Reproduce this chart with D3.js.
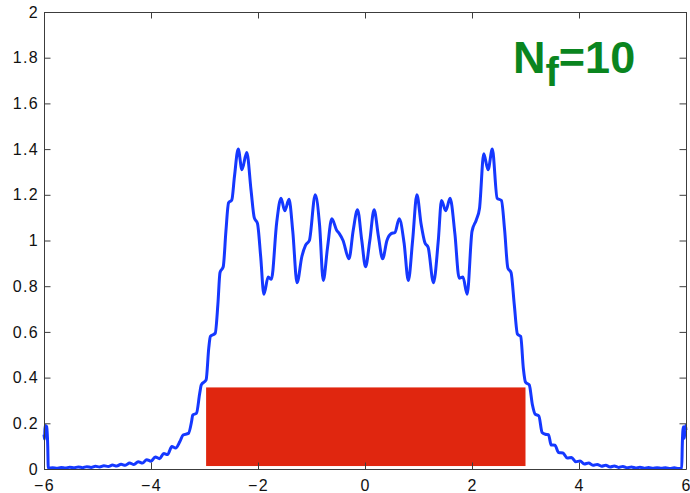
<!DOCTYPE html>
<html>
<head>
<meta charset="utf-8">
<script src="https://cdn.jsdelivr.net/npm/d3@7"></script>
<style>
  body { margin: 0; background: #fff; }
  text { font-family: "Liberation Sans", Arial, Helvetica, sans-serif; }
</style>
</head>
<body>
<div id="chart"></div>
<script>
var margin = {top: 12, right: 4, bottom: 24, left: 44};
var width = 690 - margin.left - margin.right,
    height = 493 - margin.top - margin.bottom;

// curve (x, y)
const curveX = [
  -6.00, -5.99, -5.98, -5.95, -5.93, -5.92,
  -5.84, -5.76, -5.68, -5.60, -5.52, -5.44, -5.36, -5.28, -5.20, -5.12,
  -5.04, -4.96, -4.88, -4.80, -4.72, -4.64, -4.56, -4.48, -4.40, -4.32,
  -4.24, -4.16, -4.08, -4.00, -3.92, -3.84, -3.76, -3.69, -3.61, -3.54,
  -3.46, -3.40, -3.30, -3.24, -3.22, -3.15, -3.09, -3.06, -2.97, -2.92,
  -2.89, -2.80, -2.75, -2.71, -2.65, -2.60, -2.55, -2.49, -2.44, -2.37,
  -2.30, -2.21, -2.13, -2.07, -2.01, -1.95, -1.89, -1.81, -1.75, -1.65,
  -1.57, -1.50, -1.42, -1.35, -1.27, -1.18, -1.11, -1.04, -0.93, -0.85,
  -0.78, -0.70, -0.62, -0.53, -0.48, -0.41, -0.30, -0.22, -0.14, -0.06,
  0.01, 0.09, 0.17, 0.25, 0.33, 0.41, 0.49, 0.56, 0.64, 0.73,
  0.81, 0.89, 0.97, 1.05, 1.12, 1.18, 1.28, 1.37, 1.43, 1.51,
  1.59, 1.68, 1.76, 1.83, 1.91, 2.00, 2.08, 2.14, 2.22, 2.30,
  2.38, 2.47, 2.55, 2.61, 2.67, 2.73, 2.79, 2.85, 2.91, 2.96,
  3.00, 3.07, 3.13, 3.18, 3.25, 3.31, 3.37, 3.43, 3.48, 3.55,
  3.62, 3.70, 3.78, 3.86, 3.94, 4.02, 4.10, 4.18, 4.26, 4.34,
  4.42, 4.50, 4.58, 4.66, 4.74, 4.82, 4.90, 4.98, 5.06, 5.14,
  5.22, 5.30, 5.38, 5.46, 5.54, 5.62, 5.70, 5.78, 5.86, 5.92,
  5.93, 5.95, 5.97, 5.99, 6.00
];
const curveY = [
  0.15, 0.13, 0.19, 0.185, 0.10, 0.004,
  0.006, 0.003, 0.007, 0.004, 0.008, 0.005, 0.009, 0.006, 0.010, 0.007,
  0.012, 0.009, 0.014, 0.011, 0.017, 0.013, 0.021, 0.016, 0.026, 0.020,
  0.032, 0.026, 0.041, 0.034, 0.053, 0.045, 0.068, 0.063, 0.098, 0.092,
  0.12, 0.149, 0.156, 0.21, 0.236, 0.244, 0.33, 0.368, 0.39, 0.53,
  0.58, 0.594, 0.72, 0.86, 0.885, 1.04, 1.165, 1.177, 1.28, 1.40,
  1.31, 1.385, 1.22, 1.10, 1.075, 0.93, 0.765, 0.84, 0.83, 1.08,
  1.185, 1.13, 1.18, 1.04, 0.815, 0.93, 0.98, 1.00, 1.20, 1.07,
  0.825, 0.97, 1.095, 1.045, 1.03, 1.00, 0.92, 1.045, 1.135, 1.00,
  0.885, 1.00, 1.135, 1.02, 0.92, 1.00, 1.03, 1.035, 1.095, 0.99,
  0.825, 1.00, 1.20, 1.07, 0.99, 0.97, 0.815, 1.00, 1.175, 1.13,
  1.185, 1.03, 0.835, 0.84, 0.765, 1.04, 1.09, 1.14, 1.38, 1.31,
  1.40, 1.185, 1.175, 1.045, 0.88, 0.86, 0.72, 0.59, 0.58, 0.44,
  0.38, 0.368, 0.28, 0.24, 0.232, 0.16, 0.152, 0.150, 0.105, 0.104,
  0.072, 0.070, 0.048, 0.050, 0.032, 0.035, 0.022, 0.026, 0.016, 0.020,
  0.012, 0.016, 0.009, 0.013, 0.007, 0.011, 0.005, 0.009, 0.004, 0.008,
  0.003, 0.007, 0.003, 0.006, 0.003, 0.006, 0.002, 0.005, 0.002, 0.003,
  0.10, 0.185, 0.135, 0.19, 0.17
];

// red block
const barX = [-2.97, 3.0];
const barY = [0.013, 0.357];

const xTicks = [-6, -4, -2, 0, 2, 4, 6];
const yTicks = [0, 0.2, 0.4, 0.6, 0.8, 1, 1.2, 1.4, 1.6, 1.8, 2];

const svg = d3.select('#chart')
  .append('svg')
  .attr("width", width + margin.left + margin.right)
  .attr("height", height + margin.top + margin.bottom)
  .append("g")
  .attr("transform", "translate(" + margin.left + "," + margin.top + ")");

const x = d3.scaleLinear().domain([-6, 6]).range([0, width]);
const y = d3.scaleLinear().domain([0, 2]).range([height, 0]);

// bar
svg.append("rect")
  .attr("x", x(barX[0]))
  .attr("y", y(barY[1]))
  .attr("width", x(barX[1]) - x(barX[0]))
  .attr("height", y(barY[0]) - y(barY[1]))
  .attr("fill", "#e0260f");

// curve
const pts = curveX.map((d, i) => [d, curveY[i]]);
const line = d3.line()
  .x(d => x(d[0]))
  .y(d => y(d[1]))
  .curve(d3.curveMonotoneX);

svg.append("path")
  .datum(pts)
  .attr("fill", "none")
  .attr("stroke", "#1538ff")
  .attr("stroke-width", 3)
  .attr("stroke-linejoin", "round")
  .attr("d", line);

// axes, matlab style: ticks inward on all four sides
const axisColor = "#3c3c3c";
const tickLen = 6.5;

const axBottom = svg.append("g")
  .attr("transform", `translate(0,${height})`)
  .call(d3.axisBottom(x).tickValues(xTicks).tickSizeInner(-tickLen).tickSizeOuter(0).tickPadding(11));
const axLeft = svg.append("g")
  .call(d3.axisLeft(y).tickValues(yTicks).tickSizeInner(-tickLen).tickSizeOuter(0).tickPadding(5)
    .tickFormat(d3.format("~g")));
const axTop = svg.append("g")
  .call(d3.axisTop(x).tickValues(xTicks).tickSizeInner(-tickLen).tickSizeOuter(0).tickFormat(""));
const axRight = svg.append("g")
  .attr("transform", `translate(${width},0)`)
  .call(d3.axisRight(y).tickValues(yTicks).tickSizeInner(-tickLen).tickSizeOuter(0).tickFormat(""));

[axBottom, axLeft, axTop, axRight].forEach(g => {
  g.selectAll("path, line").attr("stroke", axisColor);
  g.selectAll("text")
    .attr("fill", "#111")
    .attr("font-size", "16px")
    .attr("letter-spacing", "1.3px")
    .attr("font-family", "'Liberation Sans', Arial, Helvetica, sans-serif");
});

// label
const label = svg.append("text")
  .attr("x", 469)
  .attr("y", 61)
  .attr("fill", "#0a851f")
  .attr("font-weight", "bold")
  .attr("font-size", "45px");
label.append("tspan").text("N");
label.append("tspan").attr("font-size", "40px").attr("dy", 13).text("f");
label.append("tspan").attr("font-size", "45px").attr("dy", -13).text("=10");
</script>
</body>
</html>
